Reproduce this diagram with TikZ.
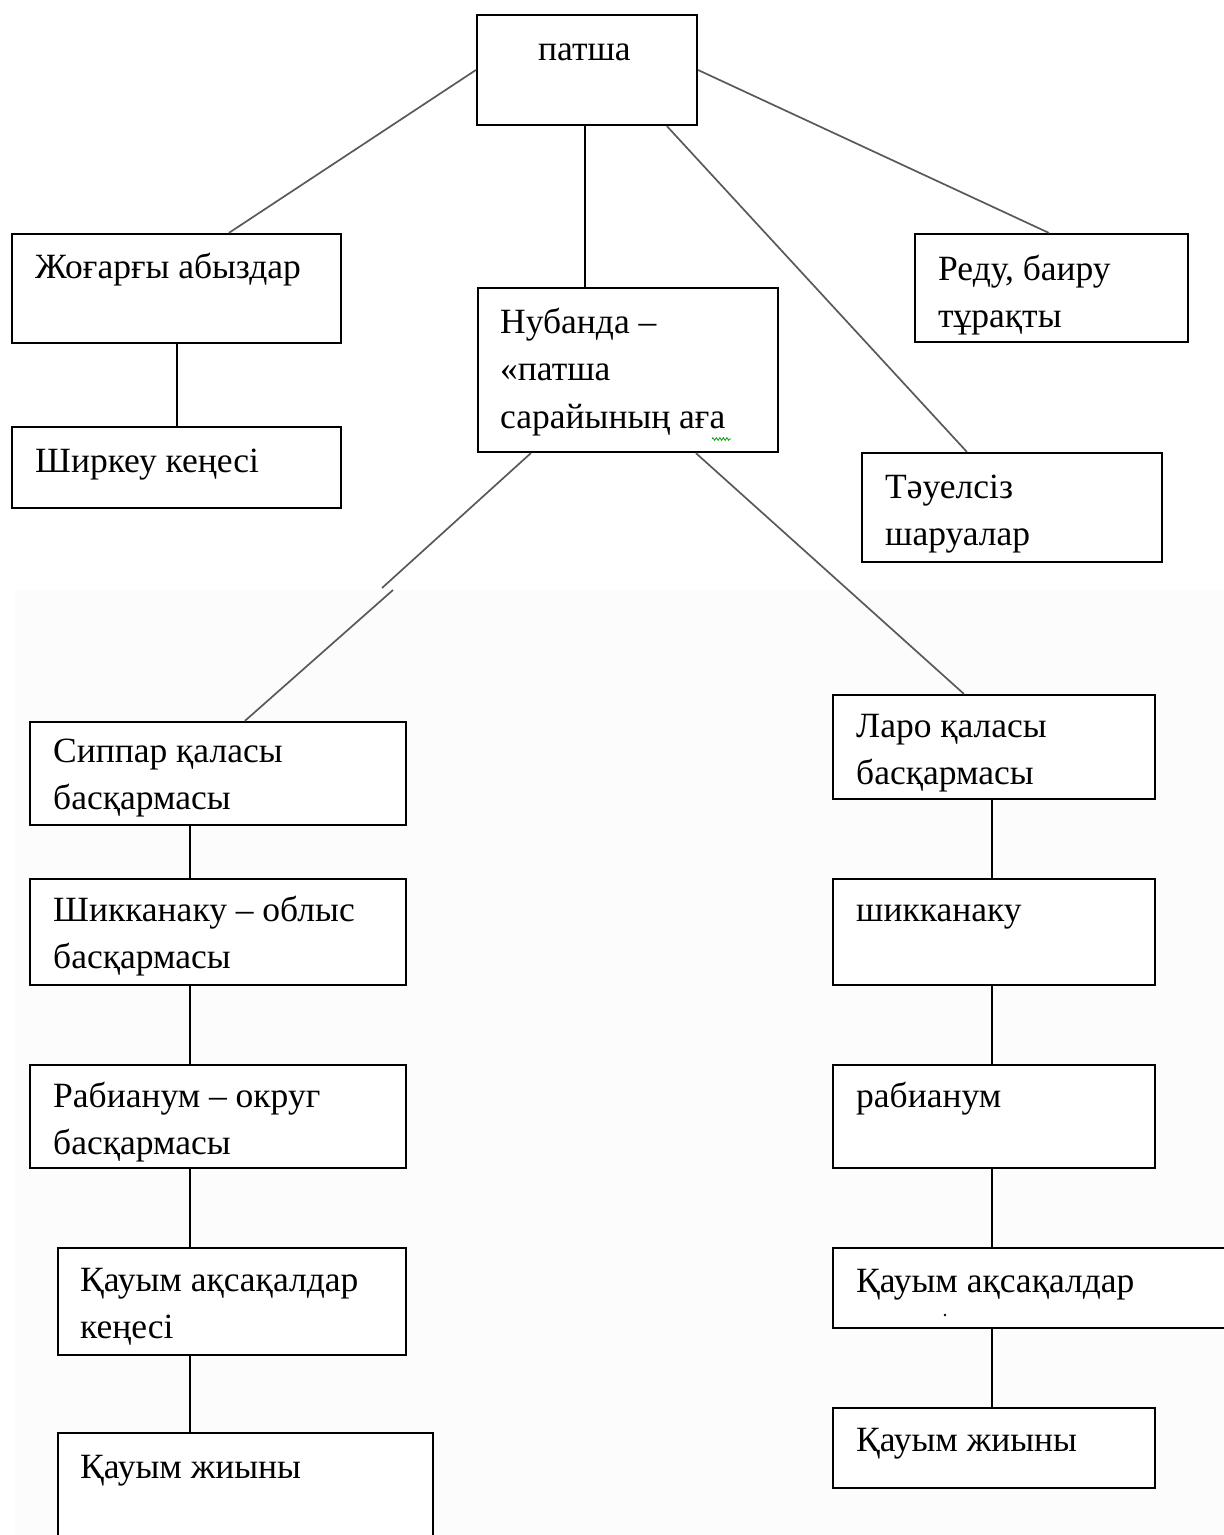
\documentclass[tikz,border=0pt]{standalone}
\usepackage{fontspec}
\setmainfont{Liberation Serif}
\usetikzlibrary{fit,decorations.pathmorphing}
\tikzset{
  boxst/.style={draw=black, line width=2.2pt, inner sep=0pt, fill=white},
  txtst/.style={anchor=base west, inner sep=0pt, font=\fontsize{35.5}{47.5}\selectfont},
  diag/.style={draw=black!65, line width=1.7pt},
  vert/.style={draw=black, line width=2pt},
}
\newcommand\mybox[8]{%
  \node[boxst, fit={(#2,#3) (#4,#5)}] (#1) {};
  \node[txtst] (#1-t) at (#6,#7) {\parbox[t]{600pt}{\raggedright #8}};
}
\begin{document}
\begin{tikzpicture}[x=1pt,y=-1pt]
\useasboundingbox (0,0) rectangle (1224,1535);
\fill[black!1] (15,590) rectangle (1224,1535);
\coordinate (brkA) at (382,588);
\coordinate (brkB) at (393,590);
% boxes
\mybox{patsha}{477}{15}{697}{125}{538}{60}{патша}
\mybox{zhog}{12}{234}{341}{343}{35}{278}{Жоғарғы абыздар}
\mybox{shirk}{12}{427}{341}{508}{35}{472}{Ширкеу кеңесі}
\mybox{nub}{478}{288}{778}{452}{500}{333}{Нубанда –\\«патша\\сарайының аға}
\mybox{redu}{915}{234}{1188}{342}{938}{280}{Реду, баиру\\тұрақты}
\mybox{tauel}{862}{453}{1162}{562}{885}{498}{Тәуелсіз\\шаруалар}
\mybox{sipp}{30}{722}{406}{825}{53}{762}{Сиппар қаласы\\басқармасы}
\mybox{shik}{30}{879}{406}{985}{53}{921}{Шикканаку – облыс\\басқармасы}
\mybox{rab}{30}{1065}{406}{1168}{53}{1107}{Рабианум – округ\\басқармасы}
\mybox{kauA}{58}{1248}{406}{1355}{80}{1291}{Қауым ақсақалдар\\кеңесі}
\mybox{zhiyA}{58}{1433}{433}{1545}{80}{1478}{Қауым жиыны}
\mybox{laro}{833}{695}{1155}{799}{856}{737}{Ларо қаласы\\басқармасы}
\mybox{shikB}{833}{879}{1155}{985}{856}{921}{шикканаку}
\mybox{rabB}{833}{1065}{1155}{1168}{856}{1107}{рабианум}
\mybox{kauB}{833}{1248}{1240}{1328}{856}{1292}{Қауым ақсақалдар}
\mybox{zhiyB}{833}{1408}{1155}{1488}{856}{1451}{Қауым жиыны}
% small mark and spellcheck squiggle
\fill (945,1315) circle (1.3pt);
\draw[green!60!black, line width=0.8pt, decorate, decoration={zigzag, amplitude=1.3pt, segment length=3.5pt}] (712,439) -- (731,439);
% connectors from patsha
\draw[diag] (patsha.west) -- ([xshift=218pt]zhog.north west);
\draw[vert] ([xshift=109pt]patsha.south west) -- ([xshift=108pt]nub.north west);
\draw[diag] ([xshift=191pt]patsha.south west) -- ([xshift=106pt]tauel.north west);
\draw[diag] (patsha.east) -- ([xshift=135pt]redu.north west);
\draw[vert] (zhog.south) -- (shirk.north);
% from nub
\draw[diag] ([xshift=54pt]nub.south west) -- (brkA);
\draw[diag] (brkB) -- ([xshift=216pt]sipp.north west);
\draw[diag] ([xshift=219pt]nub.south west) -- ([xshift=132pt]laro.north west);
% left column
\draw[vert] ([xshift=161pt]sipp.south west) -- ([xshift=161pt]shik.north west);
\draw[vert] ([xshift=161pt]shik.south west) -- ([xshift=161pt]rab.north west);
\draw[vert] ([xshift=161pt]rab.south west) -- ([xshift=133pt]kauA.north west);
\draw[vert] ([xshift=133pt]kauA.south west) -- ([xshift=133pt]zhiyA.north west);
% right column
\draw[vert] ([xshift=160pt]laro.south west) -- ([xshift=160pt]shikB.north west);
\draw[vert] ([xshift=160pt]shikB.south west) -- ([xshift=160pt]rabB.north west);
\draw[vert] ([xshift=160pt]rabB.south west) -- ([xshift=160pt]kauB.north west);
\draw[vert] ([xshift=160pt]kauB.south west) -- ([xshift=160pt]zhiyB.north west);
\end{tikzpicture}
\end{document}
